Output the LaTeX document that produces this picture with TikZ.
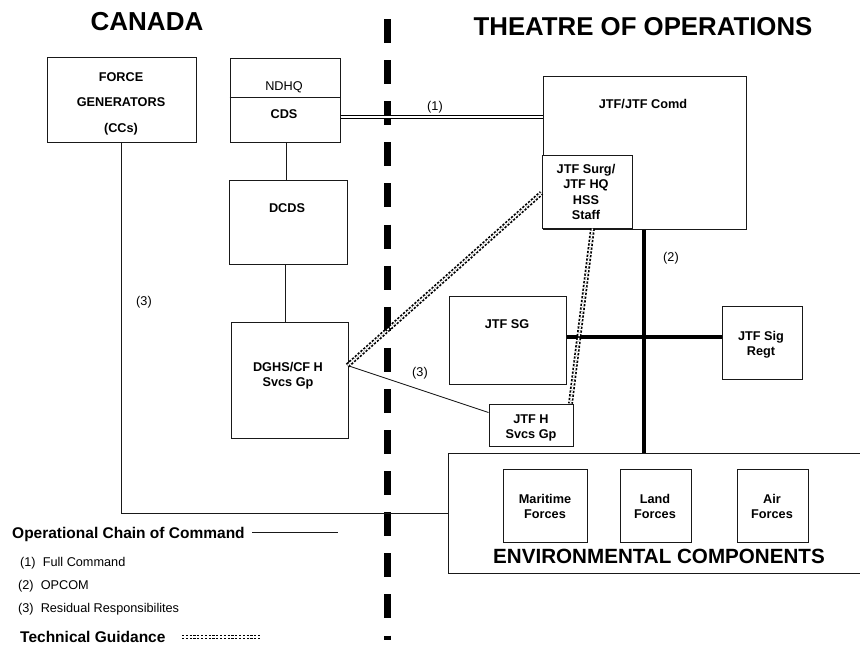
\documentclass[tikz,border=0pt]{standalone}
\usepackage{fontspec}
\setmainfont{Liberation Sans}
\usetikzlibrary{calc}
\begin{document}
\begin{tikzpicture}[x=1pt,y=-1pt,
  box/.style={draw=black!90, line width=1pt, rectangle, inner sep=0pt},
  lab/.style={font=\fontsize{12.7}{15}\selectfont\bfseries, anchor=base, inner sep=0pt},
  reg/.style={font=\fontsize{12.7}{15}\selectfont, anchor=base, inner sep=0pt},
  keyhead/.style={font=\fontsize{15.5}{18}\selectfont\bfseries, anchor=base west, inner sep=0pt},
  keyitem/.style={font=\fontsize{12.7}{15}\selectfont, anchor=base west, inner sep=0pt},
  title/.style={font=\fontsize{26}{30}\selectfont\bfseries, anchor=base, inner sep=0pt},
  thin/.style={draw=black!90, line width=0.9pt},
  thick/.style={draw=black, line width=3.2pt},
  dbl/.style={draw=black, double=white, double distance=1.4pt, line width=1.3pt},
  tech/.style={draw=black, double=white, double distance=1.5pt, line width=1.7pt, dash pattern=on 2.2pt off 1.6pt},
  border/.style={draw=black, line width=7pt, dash pattern=on 24pt off 17.1pt}]

\useasboundingbox (0,0) rectangle (860,646);

% headings
\node[title] (canada) at (147,30) {CANADA};
\node[title, font=\fontsize{25.8}{30}\selectfont\bfseries] (theatre) at (643,35) {THEATRE OF OPERATIONS};

% dividing line between the two sides
\coordinate (divtop) at (387,19);
\coordinate (divbot) at (387,639.5);
\draw[border] (divtop) -- (divbot);

% Canada side boxes
\node[box, minimum width=149, minimum height=85] (fg) at (121.5,99.5) {};
\node[lab] (fg1) at (121,81.5) {FORCE};
\node[lab] (fg2) at (121,106.5) {GENERATORS};
\node[lab] (fg3) at (121,132.5) {(CCs)};

\node[box, minimum width=110, minimum height=84] (cds) at (285,100) {};
\draw[thin] (cds.west |- 0,97) coordinate (cdsdl) -- (cds.east |- 0,97) coordinate (cdsdr);
\node[reg] (ndhq) at (284,90.5) {NDHQ};
\node[lab] (cdst) at (284,118.5) {CDS};

\node[box, minimum width=118, minimum height=84] (dcds) at (288,222) {};
\node[lab] (dcdst) at (287,212.5) {DCDS};

\node[box, minimum width=117, minimum height=116] (dghs) at (289.5,380) {};
\node[lab] (dghs1) at (288,371.5) {DGHS/CF H};
\node[lab] (dghs2) at (288,386.5) {Svcs Gp};

% theatre side boxes
\node[box, minimum width=203, minimum height=153] (jtf) at (644.5,152.5) {};
\node[lab] (jtft) at (643,108.5) {JTF/JTF Comd};

\node[box, fill=white, minimum width=90, minimum height=73] (surg) at (587,191.5) {};
\node[lab] (surg1) at (586,173.5) {JTF Surg/};
\node[lab] (surg2) at (586,188.8) {JTF HQ};
\node[lab] (surg3) at (586,204.1) {HSS};
\node[lab] (surg4) at (586,219.4) {Staff};

\node[box, minimum width=117, minimum height=88] (sg) at (507.5,340) {};
\node[lab] (sgt) at (507,328.5) {JTF SG};

\node[box, minimum width=80, minimum height=73] (sig) at (762,342.5) {};
\node[lab] (sig1) at (761,340.5) {JTF Sig};
\node[lab] (sig2) at (761,355.5) {Regt};

\node[box, minimum width=84, minimum height=42] (jtfh) at (531,425) {};
\node[lab] (jtfh1) at (531,423.5) {JTF H};
\node[lab] (jtfh2) at (531,438.5) {Svcs Gp};

\node[box, minimum width=418, minimum height=120] (env) at (657,513) {};
\node[box, minimum width=84, minimum height=73] (mar) at (545,505.5) {};
\node[lab] (mar1) at (545,503.5) {Maritime};
\node[lab] (mar2) at (545,518.5) {Forces};
\node[box, minimum width=71, minimum height=73] (land) at (655.5,505.5) {};
\node[lab] (land1) at (655,503.5) {Land};
\node[lab] (land2) at (655,518.5) {Forces};
\node[box, minimum width=71, minimum height=73] (air) at (772.5,505.5) {};
\node[lab] (air1) at (772,503.5) {Air};
\node[lab] (air2) at (772,518.5) {Forces};
\node[lab, font=\fontsize{20.6}{24}\selectfont\bfseries] (envt) at (659,563.4) {ENVIRONMENTAL COMPONENTS};

% full command
\coordinate (fcA) at ($(cds.south east)!0.3!(cds.north east)$);
\draw[dbl] (fcA) -- (fcA -| jtf.west);
\node[reg] (l1) at (435,110) {(1)};

% staff chain in Canada
\draw[thin] (cds.south -| 286,0) -- (dcds.north -| 286,0);
\draw[thin] (dcds.south -| 285,0) -- (dghs.north -| 285,0);

% residual responsibilities
\draw[thin] (fg.south) |- (env.west);
\node[reg] (l3a) at (144,305.5) {(3)};
\coordinate (dghsout) at ($(dghs.north east)+(-1,44)$);
\coordinate (jtfhin) at ($(jtfh.north west)+(0,9)$);
\draw[thin] (dghsout) -- (jtfhin);
\node[reg] (l3b) at (420,376) {(3)};

% OPCOM
\draw[thick] (jtf.south -| 644,0) -- (env.north -| 644,0);
\coordinate (sgout) at ($(sg.east)+(0,-3)$);
\draw[thick] (sgout) -- (sgout -| sig.west);
\node[reg] (l2) at (671,261) {(2)};

% technical guidance
\draw[tech] (dghsout) -- ($(surg.west)+(0,1.5)$);
\draw[tech] ($(surg.south)+(5.5,0)$) -- ($(jtfh.north east)+(-3,0)$);

% key
\node[keyhead] (kocc) at (12,538) {Operational Chain of Command};
\coordinate (koccA) at (252,532);
\coordinate (koccB) at (338,532);
\draw[thin] (koccA) -- (koccB);
\node[keyitem] (k1) at (20,566) {(1)\ \ Full Command};
\node[keyitem] (k2) at (18,589.5) {(2)\ \ OPCOM};
\node[keyitem] (k3) at (18,612.7) {(3)\ \ Residual Responsibilites};
\node[keyhead] (ktg) at (20,642.5) {Technical Guidance};
\coordinate (ktgA) at (182,637);
\coordinate (ktgB) at (260,637);
\draw[tech] (ktgA) -- (ktgB);
\end{tikzpicture}
\end{document}
